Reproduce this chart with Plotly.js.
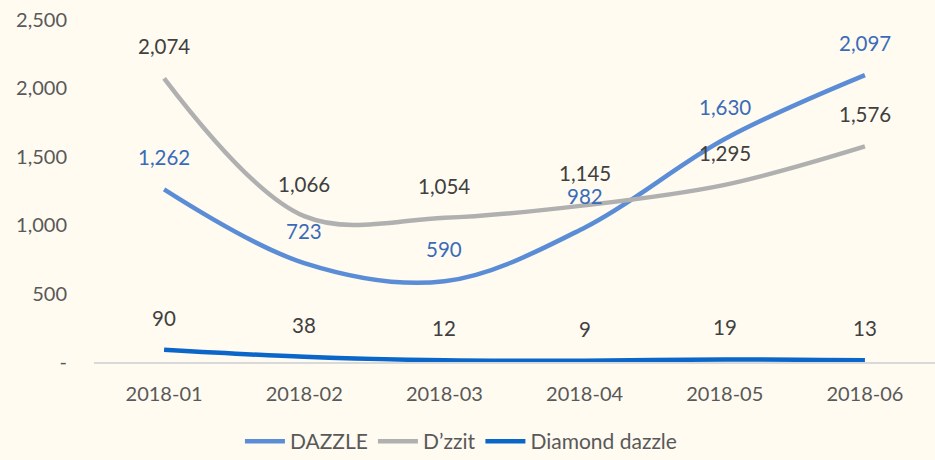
<!DOCTYPE html>
<html>
<head>
<meta charset="utf-8">
<script src="https://cdn.plot.ly/plotly-3.0.1.min.js"></script>
<style>html,body{margin:0;padding:0;background:#FFFBF0;}</style>
</head>
<body>
<div id="chart" style="width:935px;height:460px;"></div>
<script>
const months = ["2018-01", "2018-02", "2018-03", "2018-04", "2018-05", "2018-06"];
const dazzle = [1262, 723, 590, 982, 1630, 2097];
const dzzit = [2074, 1066, 1054, 1145, 1295, 1576];
const diamondDazzle = [90, 38, 12, 9, 19, 13];
const seriesNames = ["DAZZLE", "D\u2019zzit", "Diamond dazzle"];
const yTickVals = [0, 500, 1000, 1500, 2000, 2500];
const yTickText = ["-", "500", "1,000", "1,500", "2,000", "2,500"];

const lineColors = ["#5A8DD6", "#B0B0B0", "#0A66C8"];
const labelColors = ["#3A6BB8", "#404040", "#404040"];
const allSeries = [dazzle, dzzit, diamondDazzle];

const traces = allSeries.map((vals, i) => ({
  x: months, y: vals, name: seriesNames[i], type: "scatter", mode: "lines",
  line: {color: lineColors[i], width: 4.5, shape: "spline", smoothing: 1},
  hoverinfo: "skip"
}));

const annotations = [];
allSeries.forEach((vals, i) => {
  vals.forEach((v, j) => {
    annotations.push({
      x: months[j], y: v, xref: "x", yref: "y", showarrow: false,
      text: v.toLocaleString("en-US"), yshift: 32,
      font: {family: "Lato, sans-serif", size: 20.5, color: labelColors[i]}
    });
  });
});

const layout = {
  width: 935, height: 460,
  paper_bgcolor: "#FFFBF0", plot_bgcolor: "#FFFBF0",
  margin: {l: 94, r: 0, t: 20, b: 98},
  font: {family: "Lato, sans-serif", size: 20, color: "#595959"},
  xaxis: {
    type: "category", range: [-0.5, 5.5], showgrid: false, zeroline: false,
    showline: true, linecolor: "#D9D9D9", linewidth: 1.5, ticks: "",
    ticklabelstandoff: 13, fixedrange: true, automargin: false
  },
  yaxis: {
    range: [0, 2500], tickvals: yTickVals, ticktext: yTickText,
    showgrid: false, zeroline: false, showline: false, ticks: "",
    ticklabelstandoff: 26, fixedrange: true, automargin: false
  },
  showlegend: true,
  legend: {
    orientation: "h", xref: "container", yref: "container",
    x: 0.493, xanchor: "center", y: 0.04, yanchor: "middle",
    font: {family: "Lato, sans-serif", size: 21, color: "#595959"},
    itemwidth: 40,
    bgcolor: "rgba(0,0,0,0)"
  },
  annotations: annotations
};

Plotly.newPlot("chart", traces, layout, {displayModeBar: false, staticPlot: true});
</script>
</body>
</html>
